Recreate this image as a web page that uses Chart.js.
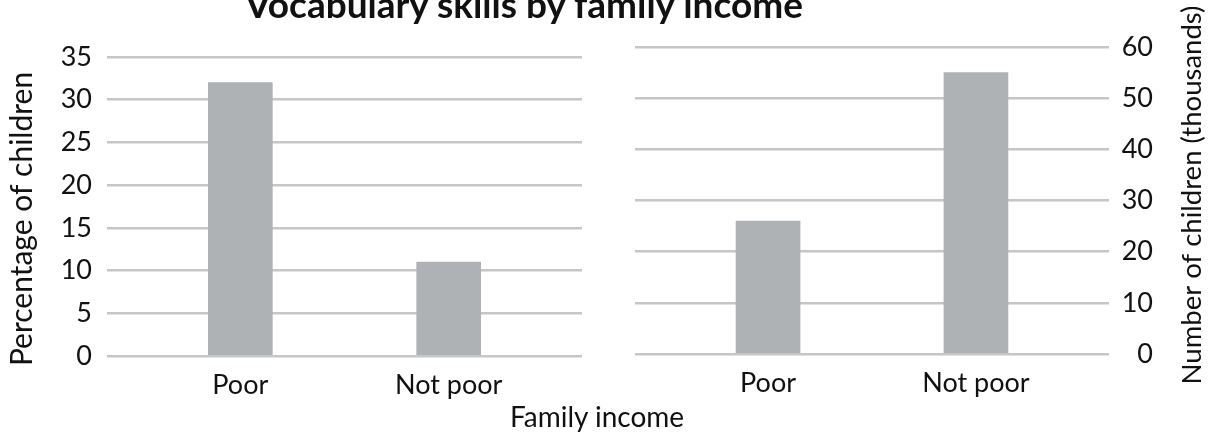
<!DOCTYPE html>
<html>
<head>
<meta charset="utf-8">
<script src="https://cdn.jsdelivr.net/npm/chart.js@4.4.0/dist/chart.umd.min.js"></script>
<style>
  html, body { margin: 0; padding: 0; background: #fff; }
  #wrap { position: relative; width: 1211px; height: 433px; overflow: hidden; font-family: Lato, sans-serif; color: #111; }
  #left { position: absolute; left: 0; top: 0; }
  #right { position: absolute; left: 605px; top: 0; }
  .title { position: absolute; left: 0; width: 1048px; top: -15px; text-align: center; font-weight: bold; font-size: 37px; line-height: 37px; white-space: nowrap; }
  .xlabel { position: absolute; left: 0; width: 1194px; top: 402px; text-align: center; font-size: 28px; line-height: 28px; }
</style>
</head>
<body>
<div id="wrap">
  <canvas id="left" width="605" height="433"></canvas>
  <canvas id="right" width="606" height="433"></canvas>
  <div class="title">Vocabulary skills by family income</div>
  <div class="xlabel">Family income</div>
</div>
<script>
var incomeGroups = ['Poor', 'Not poor'];
var pctChildren = [32, 11];      // percent of children
var numChildren = [26, 55];      // thousands of children
var pctTicks = [0, 5, 10, 15, 20, 25, 30, 35];
var numTicks = [0, 10, 20, 30, 40, 50, 60];

var barGray = '#afb2b4';
var gridGray = '#c6c6c6';
var textColor = '#111';

Chart.defaults.font.family = 'Lato';
Chart.defaults.color = textColor;

// rotated axis title, reads bottom to top on both sides
var sideTitle = {
    id: 'sideTitle',
    afterDraw: function(chart, args, opts) {
        var ctx = chart.ctx;
        ctx.save();
        ctx.translate(opts.x, opts.y);
        ctx.rotate(-Math.PI / 2);
        ctx.font = opts.size + 'px Lato';
        ctx.fillStyle = textColor;
        ctx.textAlign = 'center';
        ctx.textBaseline = 'middle';
        ctx.fillText(opts.text, 0, 0);
        ctx.restore();
    }
};

function incomeAxis(height) {
    return {
        type: 'linear',
        min: -0.64,
        max: 1.64,
        offset: false,
        afterBuildTicks: function(s) {
            s.ticks = incomeGroups.map(function(g, i) { return { value: i }; });
        },
        afterFit: function(s) { s.height = height; },
        grid: { display: false },
        border: { display: false },
        ticks: {
            padding: 5,
            font: { size: 27 },
            callback: function(v) { return incomeGroups[v]; }
        }
    };
}

function points(values) {
    return incomeGroups.map(function(g, i) { return { x: i, y: values[i] }; });
}

new Chart(document.getElementById('left'), {
    type: 'bar',
    data: {
        datasets: [{
            data: points(pctChildren),
            backgroundColor: barGray,
            barThickness: 64
        }]
    },
    options: {
        responsive: false,
        animation: false,
        layout: { padding: { top: 57, right: 23, left: 0, bottom: 0 } },
        plugins: {
            legend: { display: false },
            tooltip: { enabled: false },
            sideTitle: { text: 'Percentage of children', x: 22, y: 219, size: 30 }
        },
        scales: {
            x: incomeAxis(77),
            y: {
                position: 'left',
                min: 0,
                max: 35,
                afterBuildTicks: function(s) {
                    s.ticks = pctTicks.map(function(v) { return { value: v }; });
                },
                afterFit: function(s) { s.width = 107; },
                grid: { color: gridGray, lineWidth: 2.5, drawTicks: false },
                border: { display: false },
                ticks: { padding: 15, font: { size: 27 } }
            }
        }
    },
    plugins: [sideTitle]
});

new Chart(document.getElementById('right'), {
    type: 'bar',
    data: {
        datasets: [{
            data: points(numChildren),
            backgroundColor: barGray,
            barThickness: 64
        }]
    },
    options: {
        responsive: false,
        animation: false,
        layout: { padding: { top: 47, right: 58, left: 30, bottom: 0 } },
        plugins: {
            legend: { display: false },
            tooltip: { enabled: false },
            sideTitle: { text: 'Number of children (thousands)', x: 587, y: 195, size: 27.5 }
        },
        scales: {
            x: incomeAxis(79),
            y: {
                position: 'right',
                min: 0,
                max: 60,
                afterBuildTicks: function(s) {
                    s.ticks = numTicks.map(function(v) { return { value: v }; });
                },
                afterFit: function(s) { s.width = 44; },
                grid: { color: gridGray, lineWidth: 2.5, drawTicks: false },
                border: { display: false },
                ticks: { padding: 14, crossAlign: 'far', font: { size: 27 } }
            }
        }
    },
    plugins: [sideTitle]
});
</script>
</body>
</html>
